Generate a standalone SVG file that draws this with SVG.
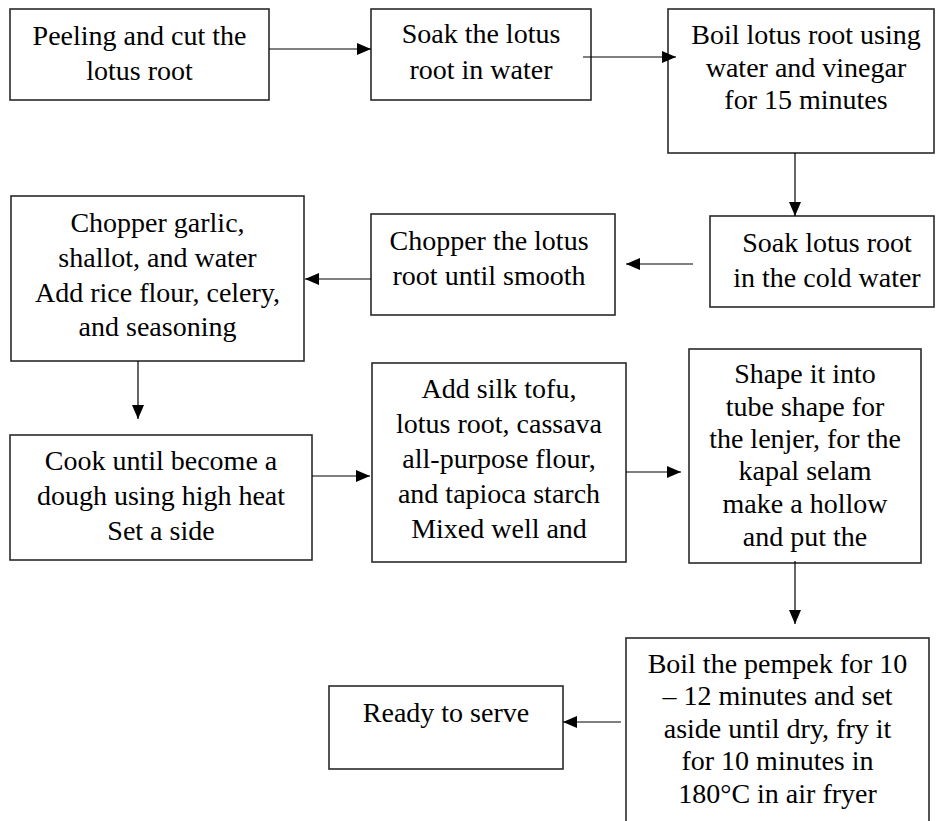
<svg xmlns="http://www.w3.org/2000/svg" width="936" height="821" viewBox="0 0 936 821">
<style>
.box{fill:#fff;stroke:#2a2a2a;stroke-width:1.6}
.lbl{font-family:"Liberation Serif","Times New Roman",serif;font-size:28px;fill:#000;text-anchor:middle}
.con{stroke:#000;stroke-width:1.2;fill:none;marker-end:url(#ah)}
</style>
<defs>
<marker id="ah" markerUnits="userSpaceOnUse" markerWidth="16" markerHeight="14" refX="14" refY="6.5" orient="auto">
<path d="M0,0.5 L14,6.5 L0,12.5 z" fill="#000"/>
</marker>
</defs>
<rect width="936" height="821" fill="#fff"/>
<g id="n1">
<rect class="box" x="10" y="9" width="259" height="91"/>
<text class="lbl" x="139.5" y="45">Peeling and cut the</text>
<text class="lbl" x="139.5" y="80">lotus root</text>
</g>
<g id="n2">
<rect class="box" x="371" y="9" width="220" height="91"/>
<text class="lbl" x="481" y="43">Soak the lotus</text>
<text class="lbl" x="481" y="79">root in water</text>
</g>
<g id="n3">
<rect class="box" x="668" y="9" width="266" height="144"/>
<text class="lbl" x="806" y="44">Boil lotus root using</text>
<text class="lbl" x="806" y="77">water and vinegar</text>
<text class="lbl" x="806" y="109">for 15 minutes</text>
</g>
<g id="n4">
<rect class="box" x="710" y="216" width="224" height="91"/>
<text class="lbl" x="827" y="252">Soak lotus root</text>
<text class="lbl" x="827" y="287">in the cold water</text>
</g>
<g id="n5">
<rect class="box" x="371" y="214" width="244" height="101"/>
<text class="lbl" x="489" y="250">Chopper the lotus</text>
<text class="lbl" x="489" y="285">root until smooth</text>
</g>
<g id="n6">
<rect class="box" x="11" y="196" width="293" height="165"/>
<text class="lbl" x="157.5" y="232">Chopper garlic,</text>
<text class="lbl" x="157.5" y="267">shallot, and water</text>
<text class="lbl" x="157.5" y="302">Add rice flour, celery,</text>
<text class="lbl" x="157.5" y="336">and seasoning</text>
</g>
<g id="n7">
<rect class="box" x="10" y="435" width="302" height="125"/>
<text class="lbl" x="161" y="470">Cook until become a</text>
<text class="lbl" x="161" y="505">dough using high heat</text>
<text class="lbl" x="161" y="540">Set a side</text>
</g>
<g id="n8">
<rect class="box" x="372" y="363" width="254" height="199"/>
<text class="lbl" x="499" y="398">Add silk tofu,</text>
<text class="lbl" x="499" y="433">lotus root, cassava</text>
<text class="lbl" x="499" y="468">all-purpose flour,</text>
<text class="lbl" x="499" y="503">and tapioca starch</text>
<text class="lbl" x="499" y="538">Mixed well and</text>
</g>
<g id="n9">
<rect class="box" x="689" y="349" width="232" height="214"/>
<text class="lbl" x="805" y="383">Shape it into</text>
<text class="lbl" x="805" y="416">tube shape for</text>
<text class="lbl" x="805" y="448">the lenjer, for the</text>
<text class="lbl" x="805" y="480">kapal selam</text>
<text class="lbl" x="805" y="513">make a hollow</text>
<text class="lbl" x="805" y="546">and put the</text>
</g>
<g id="n10">
<rect class="box" x="626" y="638" width="303" height="200"/>
<text class="lbl" x="777.5" y="673">Boil the pempek for 10</text>
<text class="lbl" x="777.5" y="705">– 12 minutes and set</text>
<text class="lbl" x="777.5" y="738">aside until dry, fry it</text>
<text class="lbl" x="777.5" y="770">for 10 minutes in</text>
<text class="lbl" x="777.5" y="803">180°C in air fryer</text>
</g>
<g id="n11">
<rect class="box" x="329" y="686" width="234" height="83"/>
<text class="lbl" x="446" y="722">Ready to serve</text>
</g>
<g id="connectors">
<line class="con" x1="269" y1="49" x2="371" y2="49"/>
<line class="con" x1="583" y1="57" x2="676" y2="57"/>
<line class="con" x1="795" y1="153" x2="795" y2="216"/>
<line class="con" x1="693" y1="264" x2="626" y2="264"/>
<line class="con" x1="371" y1="279" x2="305" y2="279"/>
<line class="con" x1="138" y1="361" x2="138" y2="419"/>
<line class="con" x1="312" y1="476" x2="370" y2="476"/>
<line class="con" x1="626" y1="472" x2="681" y2="472"/>
<line class="con" x1="795" y1="561" x2="795" y2="624"/>
<line class="con" x1="621" y1="722" x2="563" y2="722"/>
</g>
</svg>
